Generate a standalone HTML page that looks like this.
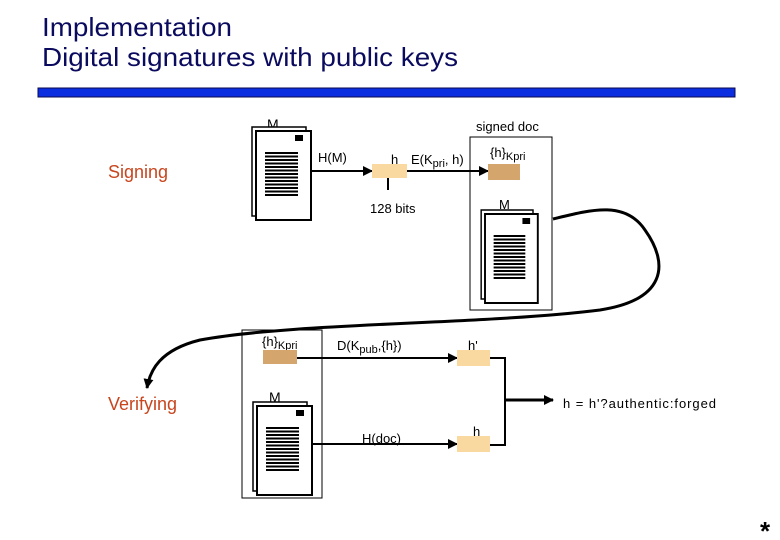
<!DOCTYPE html>
<html><head><meta charset="utf-8"><style>
body{margin:0;background:#fff;}
svg{display:block;font-family:"Liberation Sans",sans-serif;}
</style></head><body>
<svg width="780" height="540" viewBox="0 0 780 540">
<defs>
<marker id="a" markerWidth="10" markerHeight="10" refX="9" refY="5" orient="auto" markerUnits="userSpaceOnUse"><path d="M0,0 L10,5 L0,10 z" fill="#000"/></marker>
<g id="doc">
<rect x="-4" y="-4" width="54" height="89" fill="#fff" stroke="#000" stroke-width="1.5"/>
<rect x="0" y="0" width="55" height="89" fill="#fff" stroke="#000" stroke-width="2"/>
<rect x="39" y="4" width="8" height="6" fill="#000"/>
<g stroke="#000" stroke-width="2">
<line x1="9" y1="22" x2="42" y2="22"/><line x1="9" y1="25.5" x2="42" y2="25.5"/><line x1="9" y1="29" x2="42" y2="29"/><line x1="9" y1="32.5" x2="42" y2="32.5"/><line x1="9" y1="36" x2="42" y2="36"/><line x1="9" y1="39.5" x2="42" y2="39.5"/><line x1="9" y1="43" x2="42" y2="43"/><line x1="9" y1="46.5" x2="42" y2="46.5"/><line x1="9" y1="50" x2="42" y2="50"/><line x1="9" y1="53.5" x2="42" y2="53.5"/><line x1="9" y1="57" x2="42" y2="57"/><line x1="9" y1="60.5" x2="42" y2="60.5"/><line x1="9" y1="64" x2="42" y2="64"/>
</g>
</g>
</defs>
<text x="42" y="36" font-size="26" fill="#0a0a5e" textLength="190" lengthAdjust="spacingAndGlyphs">Implementation</text>
<text x="42" y="66" font-size="26" fill="#0a0a5e" textLength="416" lengthAdjust="spacingAndGlyphs">Digital signatures with public keys</text>
<rect x="38" y="88" width="697" height="9" fill="#0a2ee0" stroke="#0a0a50" stroke-width="1"/>

<text x="108" y="178" font-size="18" fill="#c8461e">Signing</text>
<text x="108" y="410" font-size="18" fill="#c8461e">Verifying</text>

<text x="267" y="129" font-size="14">M</text>
<use href="#doc" x="256" y="131"/>
<line x1="311" y1="171" x2="372" y2="171" stroke="#000" stroke-width="2" marker-end="url(#a)"/>
<text x="318" y="162" font-size="13">H(M)</text>
<rect x="372" y="164" width="35" height="14" fill="#f9d9a0"/>
<line x1="388" y1="178" x2="388" y2="190" stroke="#000" stroke-width="2"/>
<text x="391" y="164" font-size="13">h</text>
<text x="370" y="213" font-size="13">128 bits</text>
<line x1="407" y1="171" x2="488" y2="171" stroke="#000" stroke-width="2" marker-end="url(#a)"/>
<text x="411" y="164" font-size="13">E(K<tspan font-size="11" dy="3">pri</tspan><tspan dy="-3">, h)</tspan></text>

<text x="476" y="131" font-size="13">signed doc</text>
<rect x="470" y="137" width="82" height="173" fill="none" stroke="#000" stroke-width="1"/>
<text x="490" y="157" font-size="13">{h}<tspan font-size="11" dy="3">Kpri</tspan></text>
<rect x="488" y="164" width="32" height="16" fill="#d4a66e"/>
<text x="499" y="209" font-size="13">M</text>
<use href="#doc" x="485" y="214" transform="translate(485 214) scale(0.96 1) translate(-485 -214)"/>

<path d="M553,219 C590,210 625,200 645,230 C670,265 665,300 600,310 C480,325 300,322 200,340 C160,350 150,370 147,388" fill="none" stroke="#000" stroke-width="3" marker-end="url(#a)"/>

<rect x="242" y="330" width="80" height="168" fill="none" stroke="#000" stroke-width="1"/>
<text x="262" y="346" font-size="13">{h}<tspan font-size="11" dy="3">Kpri</tspan></text>
<rect x="263" y="350" width="34" height="14" fill="#d4a66e"/>
<line x1="297" y1="358" x2="457" y2="358" stroke="#000" stroke-width="2" marker-end="url(#a)"/>
<text x="337" y="350" font-size="13">D(K<tspan font-size="11" dy="3">pub</tspan><tspan dy="-3">,{h})</tspan></text>
<rect x="457" y="350" width="33" height="16" fill="#f9d9a0"/>
<text x="468" y="350" font-size="13">h'</text>

<text x="269" y="402" font-size="14">M</text>
<use href="#doc" x="257" y="406"/>
<line x1="311" y1="444" x2="457" y2="444" stroke="#000" stroke-width="2" marker-end="url(#a)"/>
<text x="362" y="443" font-size="13">H(doc)</text>
<rect x="457" y="436" width="33" height="16" fill="#f9d9a0"/>
<text x="473" y="436" font-size="13">h</text>

<path d="M490,358 H505 V445 H490" fill="none" stroke="#000" stroke-width="2"/>
<line x1="505" y1="400" x2="553" y2="400" stroke="#000" stroke-width="3" marker-end="url(#a)"/>
<text x="563" y="408" font-size="13" textLength="153" lengthAdjust="spacing">h = h'?authentic:forged</text>

<text x="760" y="540" font-size="26" font-weight="bold">*</text>
</svg>
</body></html>
